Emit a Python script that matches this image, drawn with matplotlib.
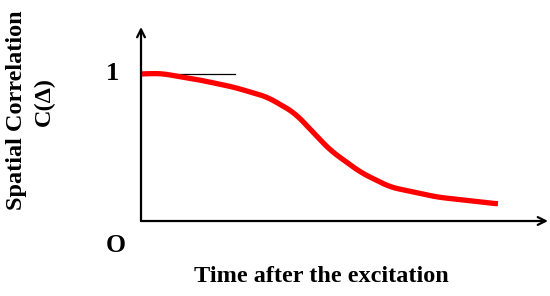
import matplotlib
matplotlib.use("Agg")
import numpy as np
import matplotlib.pyplot as plt

plt.rcParams["font.family"] = ["Liberation Serif", "DejaVu Serif"]
plt.rcParams["font.weight"] = "bold"

# curve (time in arbitrary units, correlation normalised to 1)
time = [0.0, 0.47, 1.45, 2.26, 3.10, 3.78, 4.64, 5.40, 6.12, 7.27, 8.77]
corr = [1.0, 1.005, 0.959, 0.912, 0.844, 0.735, 0.483, 0.33, 0.231, 0.163, 0.116]
ref_level = 1.0
ref_end = 2.31

fig = plt.figure(figsize=(5.5, 2.96), dpi=100)
ax = fig.add_axes([141 / 550, 75 / 296, 407 / 550, 194 / 296])
ax.set_xlim(0, 10)
ax.set_ylim(0, 1.32)
ax.axis("off")

# smooth the hand-drawn looking curve
t_s = np.linspace(time[0], time[-1], 300)
c_s = np.interp(t_s, time, corr)
k = np.ones(15) / 15
c_s = np.convolve(np.pad(c_s, 7, mode="edge"), k, mode="valid")
ax.plot(t_s, c_s, color="#ff0000", lw=3.8, solid_capstyle="butt", zorder=3)
ax.plot([0, ref_end], [ref_level, ref_level], color="black", lw=0.9, zorder=2)

# axes drawn as arrows
arrow = dict(arrowstyle="->", lw=1.6, color="black", mutation_scale=14, shrinkA=0, shrinkB=0)
ax.annotate("", xy=(1, 0), xytext=(0, 0), xycoords="axes fraction", arrowprops=arrow)
ax.annotate("", xy=(0, 1), xytext=(0, 0), xycoords="axes fraction", arrowprops=arrow)

fig.text(113 / 550, 1 - 74 / 296, "1", fontsize=19, ha="center", va="center")
fig.text(116 / 550, 1 - 245 / 296, "O", fontsize=18.5, ha="center", va="center")
fig.text(17 / 550, 1 - 110 / 296, "Spatial Correlation", fontsize=17.5,
         rotation=90, ha="center", va="center")
fig.text(44 / 550, 1 - 101 / 296, "C(Δ)", fontsize=17.5,
         rotation=90, ha="center", va="center")
fig.text(321 / 550, 1 - 276 / 296, "Time after the excitation", fontsize=17.5,
         ha="center", va="center")

fig.savefig("out.png", dpi=100)
